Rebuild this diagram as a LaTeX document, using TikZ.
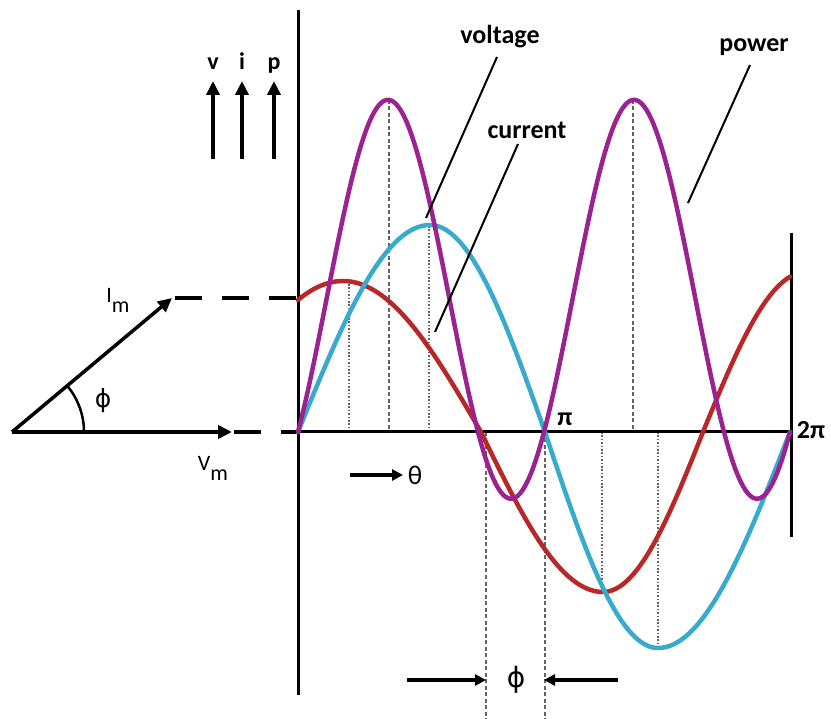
\documentclass[tikz,border=0pt]{standalone}
\usepackage{fontspec}
\setmainfont{Carlito}
\newfontfamily\dvs{DejaVu Sans}
\usetikzlibrary{arrows.meta}
\definecolor{pcol}{RGB}{155,35,145}
\definecolor{ccol}{RGB}{55,170,205}
\definecolor{rcol}{RGB}{185,40,40}
\definecolor{gcol}{RGB}{100,100,100}
\begin{document}
\begin{tikzpicture}[x=1pt,y=-1pt,
  axis/.style={line width=3pt,black},
  arr/.style={line width=3.5pt,-{Triangle[length=14pt,width=13pt]}},
  smallarr/.style={line width=4pt,-{Triangle[length=11pt,width=11pt]}},
  dashguide/.style={gcol,line width=1.1pt,dash pattern=on 4pt off 2.5pt},
  dotguide/.style={gcol,line width=1.1pt,dash pattern=on 1.6pt off 1.8pt},
  leader/.style={line width=2pt,black},
  phdash/.style={line width=3.5pt,dash pattern=on 27pt off 20pt},
  curve/.style={line width=4.5pt,line join=round,line cap=round},
  lbl/.style={font=\fontsize{26}{30}\selectfont\bfseries,inner sep=0pt},
  sym/.style={font=\fontsize{27}{30}\selectfont,inner sep=0pt},
]
\useasboundingbox (0,0) rectangle (831,719);

% guide lines
\draw[dotguide]  (349,284) -- (349,432);
\draw[dashguide] (389,100) -- (389,432);
\draw[dotguide]  (429,226) -- (429,432);
\draw[dashguide] (486,432) -- (486,719);
\draw[dashguide] (545,432) -- (545,719);
\draw[dotguide]  (602,432) -- (602,592);
\draw[dashguide] (633,100) -- (633,432);
\draw[dotguide]  (658,432) -- (658,648);

% axes
\coordinate (axtop) at (298,10);
\coordinate (axbot) at (298,695);
\coordinate (orig) at (298,432);
\coordinate (twopi) at (790,432);
\coordinate (rtop) at (791,233);
\coordinate (rbot) at (791,537);
\draw[axis] (axtop) -- (axbot);
\draw[axis] (orig) -- (twopi);
\draw[axis] (rtop) -- (rbot);

% phasors
\coordinate (O) at (12,432);
\coordinate (VmTip) at (232,432);
\coordinate (ImTip) at (172,298);
\coordinate (ImEnd) at (298,298);
\draw[arr] (O) -- (VmTip);
\draw[arr] (O) -- (ImTip);
\draw[phdash] ([xshift=2pt]VmTip) -- (orig);
\draw[phdash] ([xshift=3pt]ImTip) -- (ImEnd);
\draw[line width=2.5pt] ([xshift=72pt]O) arc[start angle=0,end angle=-40,radius=72];
\node[font=\dvs\fontsize{25}{28}\selectfont,inner sep=0pt] (phiA) at (103,401) {ϕ};
\node[font=\fontsize{22}{26}\selectfont,inner sep=0pt] (Im) at (118,300) {I\raisebox{-10pt}{m}};
\node[font=\fontsize{22}{26}\selectfont,inner sep=0pt] (Vm) at (213,468) {V\raisebox{-10pt}{m}};

% v i p arrows
\foreach \n/\x/\t in {v/213/v,i/242/i,p/274/p}{
  \coordinate (\n b) at (\x,159);
  \coordinate (\n t) at (\x,81);
  \draw[arr] (\n b) -- (\n t);
  \node[font=\fontsize{24}{28}\selectfont\bfseries,inner sep=0pt,anchor=base] (\n lab) at (\x,70) {\t};
}

% curves
\draw[curve,rcol]
  plot[domain=61:90,samples=15] ({298+1.55172*(\x-61)},{432-151*sin(\x)})
  -- plot[domain=90:180,samples=40] ({343+1.53333*(\x-90)},{432-151*sin(\x)})
  -- plot[domain=180:270,samples=40] ({481+1.35556*(\x-180)},{432-160*sin(\x)})
  -- plot[domain=270:360,samples=40] ({603+1.11111*(\x-270)},{432-160*sin(\x)})
  -- plot[domain=360:436,samples=35] ({703+1.14474*(\x-360)},{432-160*sin(\x)});
\draw[curve,ccol]
  plot[domain=0:90,samples=40] ({298+1.46667*\x},{432-207*sin(\x)})
  -- plot[domain=90:180,samples=40] ({430+1.27778*(\x-90)},{432-207*sin(\x)})
  -- plot[domain=180:270,samples=40] ({545+1.25556*(\x-180)},{432-216*sin(\x)})
  -- plot[domain=270:360,samples=40] ({658+1.46667*(\x-270)},{432-216*sin(\x)});
\draw[curve,pcol] plot[domain=0:360,samples=200] ({298+1.36667*\x},{432-399*sin(\x)*sin(\x+48.3)});

% labels and leaders
\node[lbl] (volt) at (500,37) {voltage};
\node[lbl] (curr) at (527,130) {current};
\node[lbl] (pow) at (754,47) {power};
\coordinate (voltS) at (497,57);
\coordinate (voltE) at (426,218);
\coordinate (currS) at (518,144);
\coordinate (currE) at (435,332);
\coordinate (powS) at (750,65);
\coordinate (powE) at (688,203);
\draw[leader] (voltS) -- (voltE);
\draw[leader] (currS) -- (currE);
\draw[leader] (powS) -- (powE);

\node[lbl] (pi) at (565,419) {π};
\node[lbl] (tpi) at (811,430) {2π};

% theta arrow
\coordinate (thS) at (350,475);
\coordinate (thE) at (403,475);
\draw[smallarr] (thS) -- (thE);
\node[sym] (theta) at (415,475) {θ};

% phi marker
\coordinate (pLs) at (407,680);
\coordinate (pLe) at (486,680);
\coordinate (pRs) at (618,680);
\coordinate (pRe) at (544,680);
\draw[smallarr] (pLs) -- (pLe);
\draw[smallarr] (pRs) -- (pRe);
\node[font=\dvs\fontsize{28}{32}\selectfont,inner sep=0pt] (phiB) at (516,680) {ϕ};
\end{tikzpicture}
\end{document}
